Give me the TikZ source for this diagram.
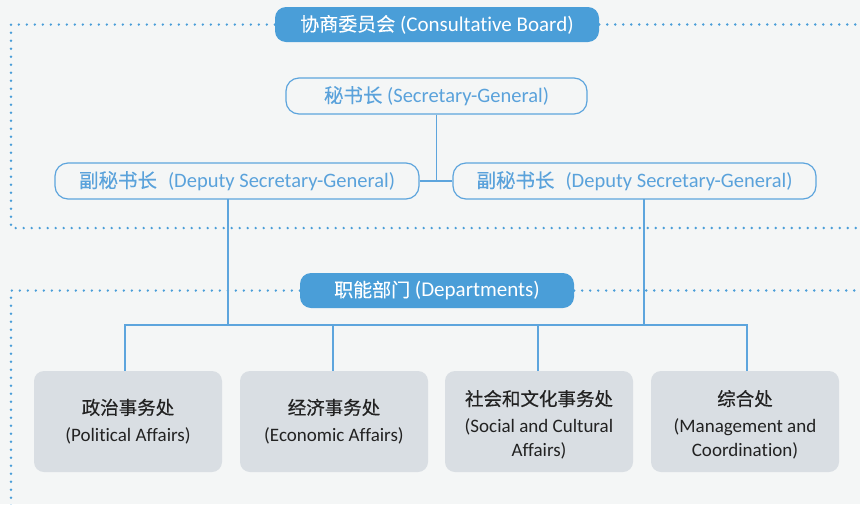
\documentclass[tikz,border=0pt]{standalone}
\usepackage{fontspec}
\setmainfont{Carlito}[Ligatures=NoCommon]
\newfontfamily\cjk{Noto Sans CJK SC}[FakeBold=0.25]
\newfontfamily\cjkb{Noto Sans CJK SC}[FakeBold=0.5]
\definecolor{bg}{HTML}{F4F6F6}
\definecolor{btn}{HTML}{4A9ED8}
\definecolor{lineblue}{HTML}{5DA5DD}
\definecolor{txtblue}{HTML}{5AA2DB}
\definecolor{deptfill}{HTML}{D9DEE3}
\definecolor{dark}{HTML}{222222}
\newcommand{\hcn}[1]{{\cjk\fontsize{19}{24}\selectfont #1}}
\newcommand{\lcn}[1]{{\cjk\fontsize{19.5}{24}\selectfont #1}}
\newcommand{\dcn}[1]{{\cjkb\fontsize{18.5}{24}\selectfont #1}}
\begin{document}
\begin{tikzpicture}[x=1pt,y=-1pt,
  header/.style={rectangle,rounded corners=11pt,fill=btn,text=white,font=\fontsize{21}{24}\selectfont,inner sep=0pt},
  lead/.style={rectangle,rounded corners=13pt,draw=lineblue,line width=1.2pt,text=txtblue,font=\fontsize{20.5}{24}\selectfont,inner sep=0pt},
  dept/.style={rectangle,rounded corners=10pt,fill=deptfill,text=dark,inner sep=0pt,minimum width=188pt,minimum height=101pt,align=center,font=\fontsize{19}{24}\selectfont},
  conn/.style={draw=lineblue,line width=1.2pt},
  dotline/.style={draw=btn,line width=2.6pt,line cap=round,dash pattern=on 0pt off 8pt},
]
\useasboundingbox (0,0) rectangle (860,504);
\fill[bg] (0,0) rectangle (860,504);

% frames
\node[header,minimum width=324pt,minimum height=35pt] (board) at (437,24.5) {\hcn{协商委员会} (Consultative Board)};
\node[header,minimum width=274pt,minimum height=35pt] (deps) at (437,290.5) {\hcn{职能部门} (Departments)};
\coordinate (f1bl) at (11,228);
\coordinate (f1br) at (864,228);
\coordinate (f1tr) at (864,24.5);
\coordinate (f2bl) at (11,508);
\coordinate (f2tr) at (864,290.5);
\path[dotline] (board.west) -| (f1bl) -- (f1br);
\path[dotline] (board.east) -- (f1tr);
\path[dotline] (deps.west) -| (f2bl);
\path[dotline] (deps.east) -- (f2tr);

% leadership
\node[lead,minimum width=301pt,minimum height=36pt] (sg) at (436.5,96) {\lcn{秘书长} (Secretary-General)};
\node[lead,minimum width=364pt,minimum height=36pt] (ld) at (237,181) {\lcn{副秘书长}\hspace{11pt}(Deputy Secretary-General)};
\node[lead,minimum width=363pt,minimum height=36pt] (rd) at (634.5,181) {\lcn{副秘书长}\hspace{11pt}(Deputy Secretary-General)};

% departments
\node[dept] (d1) at (128,421.5) {\dcn{政治事务处}\\[3pt](Political Affairs)};
\node[dept] (d2) at (334,421.5) {\dcn{经济事务处}\\[3pt](Economic Affairs)};
\node[dept] (d3) at (539,421.5) {\rule{0pt}{22pt}\dcn{社会和文化事务处}\\[3pt](Social and Cultural\\Affairs)};
\node[dept] (d4) at (745,421.5) {\rule{0pt}{22pt}\dcn{综合处}\\[3pt](Management and\\Coordination)};

% connectors
\coordinate (bus) at (437,325);
\coordinate (ldd) at (228,199);
\coordinate (rdd) at (644,199);
\path[conn] (sg.south) -- (sg.south |- ld.east);
\path[conn] (ld.east) -- (rd.west);
\path[conn] (ldd) -- (ldd |- bus);
\path[conn] (rdd) -- (rdd |- bus);
\path[conn] ([xshift=-3pt]d1.north) |- (bus) -| ([xshift=2pt]d4.north);
\path[conn] ([xshift=-1pt]d2.north) -- ([xshift=-1pt]d2.north |- bus);
\path[conn] ([xshift=-1pt]d3.north) -- ([xshift=-1pt]d3.north |- bus);
\end{tikzpicture}
\end{document}
